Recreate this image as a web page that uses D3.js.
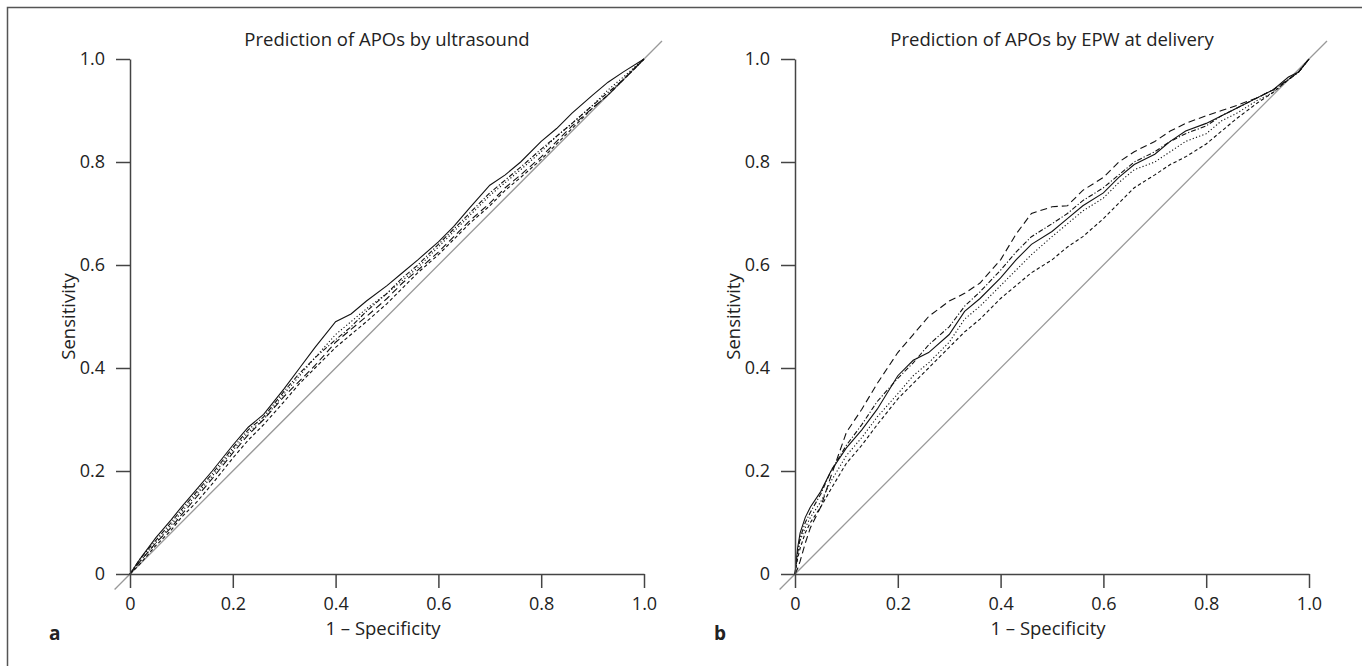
<!DOCTYPE html>
<html>
<head>
<meta charset="utf-8">
<title>Prediction of APOs</title>
<style>
body { margin: 0; background: #fff; }
text { font-family: "Open Sans", "Noto Sans", sans-serif; fill: #222; }
.axis path, .axis line { stroke: #444; stroke-width: 1.5; }
.axis text { font-size: 18px; }
</style>
</head>
<body>
<svg width="1362" height="666"></svg>
<script src="https://d3js.org/d3.v7.min.js"></script>
<script>
// tick values / labels
var ticks = [0, 0.2, 0.4, 0.6, 0.8, 1.0];
var tickLabels = ["0", "0.2", "0.4", "0.6", "0.8", "1.0"];

// panel a: ultrasound (1 - specificity grid, sensitivities)
var fprA = [0, 0.02, 0.05, 0.08, 0.1, 0.13, 0.16, 0.2, 0.23, 0.26, 0.3, 0.33, 0.36, 0.4, 0.43, 0.46,
            0.5, 0.53, 0.56, 0.6, 0.63, 0.66, 0.7, 0.73, 0.76, 0.8, 0.83, 0.86, 0.9, 0.93, 0.96, 1.0];
var solidA   = [0, 0.03, 0.07, 0.105, 0.13, 0.165, 0.2, 0.25, 0.285, 0.31, 0.36, 0.4, 0.44, 0.49, 0.505, 0.53,
                0.56, 0.585, 0.61, 0.645, 0.675, 0.71, 0.755, 0.775, 0.8, 0.84, 0.865, 0.895, 0.93, 0.955, 0.975, 1.0];
var dottedA  = [0, 0.025, 0.06, 0.095, 0.12, 0.155, 0.19, 0.24, 0.275, 0.3, 0.35, 0.385, 0.42, 0.465, 0.49, 0.515,
                0.545, 0.57, 0.595, 0.635, 0.665, 0.695, 0.735, 0.76, 0.785, 0.82, 0.85, 0.875, 0.91, 0.94, 0.965, 1.0];
var dashDotA = [0, 0.03, 0.065, 0.1, 0.125, 0.16, 0.195, 0.245, 0.28, 0.305, 0.355, 0.39, 0.42, 0.455, 0.48, 0.51,
                0.545, 0.575, 0.6, 0.64, 0.67, 0.7, 0.74, 0.765, 0.79, 0.825, 0.85, 0.875, 0.91, 0.935, 0.96, 1.0];
var shortDashA = [0, 0.02, 0.055, 0.085, 0.11, 0.14, 0.175, 0.225, 0.26, 0.29, 0.335, 0.37, 0.4, 0.44, 0.465, 0.49,
                0.525, 0.555, 0.585, 0.62, 0.65, 0.68, 0.715, 0.745, 0.77, 0.805, 0.835, 0.865, 0.905, 0.93, 0.96, 1.0];
var longDashA = [0, 0.025, 0.06, 0.09, 0.115, 0.15, 0.185, 0.235, 0.27, 0.3, 0.345, 0.375, 0.405, 0.45, 0.475, 0.5,
                0.535, 0.565, 0.59, 0.625, 0.655, 0.685, 0.72, 0.75, 0.775, 0.81, 0.84, 0.87, 0.905, 0.93, 0.96, 1.0];

// panel b: EPW at delivery
var fprB = [0, 0.005, 0.01, 0.02, 0.03, 0.05, 0.07, 0.1, 0.13, 0.16, 0.2, 0.23, 0.26, 0.3, 0.33, 0.36, 0.4, 0.43,
            0.46, 0.5, 0.53, 0.56, 0.6, 0.63, 0.66, 0.7, 0.73, 0.76, 0.8, 0.83, 0.86, 0.9, 0.93, 0.96, 0.98, 1.0];
var solidB   = [0, 0.05, 0.08, 0.11, 0.13, 0.16, 0.2, 0.245, 0.28, 0.32, 0.385, 0.415, 0.43, 0.465, 0.51, 0.535, 0.575, 0.61,
                0.64, 0.665, 0.69, 0.715, 0.74, 0.77, 0.795, 0.815, 0.84, 0.86, 0.875, 0.89, 0.905, 0.925, 0.94, 0.965, 0.975, 1.0];
var longDashB = [0, 0.01, 0.025, 0.06, 0.09, 0.13, 0.19, 0.275, 0.32, 0.37, 0.43, 0.465, 0.5, 0.53, 0.545, 0.565, 0.61, 0.66,
                0.7, 0.713, 0.715, 0.745, 0.77, 0.8, 0.82, 0.84, 0.86, 0.875, 0.89, 0.9, 0.91, 0.925, 0.94, 0.96, 0.975, 1.0];
var dashDotB = [0, 0.04, 0.07, 0.1, 0.12, 0.155, 0.2, 0.25, 0.29, 0.335, 0.38, 0.41, 0.445, 0.48, 0.52, 0.548, 0.59, 0.625,
                0.655, 0.68, 0.7, 0.725, 0.75, 0.775, 0.8, 0.82, 0.84, 0.855, 0.87, 0.89, 0.905, 0.925, 0.94, 0.96, 0.975, 1.0];
var dottedB  = [0, 0.04, 0.065, 0.09, 0.11, 0.14, 0.18, 0.23, 0.265, 0.305, 0.35, 0.385, 0.41, 0.45, 0.495, 0.52, 0.56, 0.59,
                0.62, 0.655, 0.68, 0.705, 0.73, 0.76, 0.785, 0.8, 0.82, 0.84, 0.855, 0.88, 0.895, 0.92, 0.935, 0.96, 0.975, 1.0];
var shortDashB = [0, 0.03, 0.05, 0.08, 0.1, 0.13, 0.165, 0.215, 0.25, 0.29, 0.34, 0.37, 0.4, 0.44, 0.47, 0.495, 0.535, 0.56,
                0.585, 0.61, 0.635, 0.655, 0.69, 0.72, 0.75, 0.775, 0.795, 0.81, 0.835, 0.86, 0.885, 0.915, 0.935, 0.96, 0.975, 1.0];

var dashes = { solid: null, dotted: "1.2,2.2", dashDot: "5,2,1.2,2", shortDash: "3.5,2.5", longDash: "7,4" };

var svg = d3.select("svg");

// frame around the figure (only top and left edges show)
svg.append("path")
    .attr("d", "M7.5,666 L7.5,7.5 L1362,7.5")
    .style("fill", "none")
    .style("stroke", "#555")
    .style("stroke-width", 1.5);

function drawPanel(p) {
    var x = d3.scaleLinear().domain([0, 1]).range([p.left, p.left + 514]);
    var y = d3.scaleLinear().domain([0, 1]).range([574, 59]);
    var g = svg.append("g");

    // reference diagonal
    g.append("line")
        .attr("x1", x(-0.03)).attr("y1", y(-0.03))
        .attr("x2", x(1.035)).attr("y2", y(1.035))
        .style("stroke", "#999")
        .style("stroke-width", 1.3);

    var line = d3.line()
        .x(function(d) { return x(d[0]); })
        .y(function(d) { return y(d[1]); })
        .curve(d3.curveLinear);

    p.series.forEach(function(s) {
        g.append("path")
            .attr("d", line(p.fpr.map(function(f, i) { return [f, s.values[i]]; })))
            .style("fill", "none")
            .style("stroke", "#111")
            .style("stroke-width", 1.1)
            .style("stroke-dasharray", dashes[s.style]);
    });

    g.append("g")
        .attr("class", "axis")
        .attr("transform", "translate(0,574)")
        .call(d3.axisBottom(x).tickValues(ticks).tickFormat(function(d, i) { return tickLabels[i]; })
            .tickSize(14).tickSizeOuter(0).tickPadding(9));

    g.append("g")
        .attr("class", "axis")
        .attr("transform", "translate(" + p.left + ",0)")
        .call(d3.axisLeft(y).tickValues(ticks).tickFormat(function(d, i) { return tickLabels[i]; })
            .tickSize(14).tickSizeOuter(0).tickPadding(11));

    g.selectAll(".axis text").style("fill", "#222");

    g.append("text")
        .attr("x", x(0.5)).attr("y", 46)
        .attr("text-anchor", "middle")
        .style("font-size", "18.5px")
        .text(p.title);

    g.append("text")
        .attr("x", x(0.5) - 4).attr("y", 635)
        .attr("text-anchor", "middle")
        .style("font-size", "18.5px")
        .text("1 – Specificity");

    g.append("text")
        .attr("transform", "translate(" + (p.left - 55) + "," + y(0.5) + ") rotate(-90)")
        .attr("text-anchor", "middle")
        .style("font-size", "18.5px")
        .text("Sensitivity");

    g.append("text")
        .attr("x", p.left - 81).attr("y", 640)
        .style("font-size", "19px")
        .style("font-weight", "bold")
        .text(p.letter);
}

drawPanel({
    left: 130, letter: "a", title: "Prediction of APOs by ultrasound", fpr: fprA,
    series: [
        { style: "longDash", values: longDashA },
        { style: "shortDash", values: shortDashA },
        { style: "dashDot", values: dashDotA },
        { style: "dotted", values: dottedA },
        { style: "solid", values: solidA }
    ]
});

drawPanel({
    left: 795, letter: "b", title: "Prediction of APOs by EPW at delivery", fpr: fprB,
    series: [
        { style: "longDash", values: longDashB },
        { style: "shortDash", values: shortDashB },
        { style: "dashDot", values: dashDotB },
        { style: "dotted", values: dottedB },
        { style: "solid", values: solidB }
    ]
});
</script>
</body>
</html>
